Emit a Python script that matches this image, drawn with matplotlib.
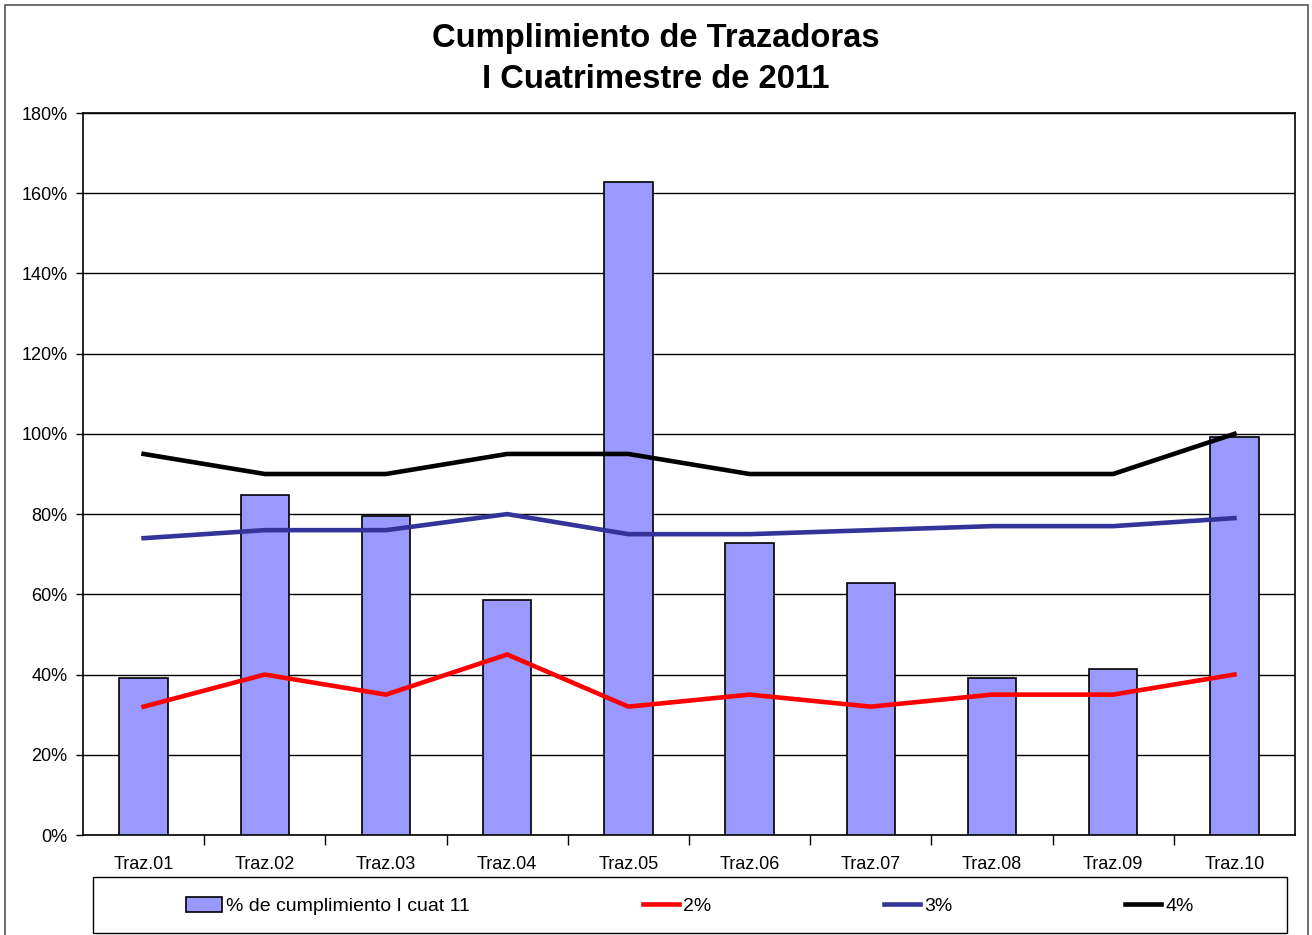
import matplotlib.pyplot as plt
from matplotlib.patches import Rectangle
from matplotlib.ticker import FuncFormatter, MultipleLocator
import numpy as np

plt.rcParams['font.family'] = ['Liberation Sans', 'DejaVu Sans']

categories = ['Traz.01', 'Traz.02', 'Traz.03', 'Traz.04', 'Traz.05',
              'Traz.06', 'Traz.07', 'Traz.08', 'Traz.09', 'Traz.10']
cumplimiento = [39.2, 84.8, 79.6, 58.6, 162.8, 72.8, 62.8, 39.2, 41.4, 99.2]
meta_2 = [32, 40, 35, 45, 32, 35, 32, 35, 35, 40]
meta_3 = [74, 76, 76, 80, 75, 75, 76, 77, 77, 79]
meta_4 = [95, 90, 90, 95, 95, 90, 90, 90, 90, 100]

W, H = 1312, 935
fig = plt.figure(figsize=(W / 100, H / 100), dpi=100)

# outer chart border
fig.patches.append(Rectangle((5 / W, -0.01), 1303 / W, 1 - 5 / H + 0.01,
                             transform=fig.transFigure, fill=False,
                             edgecolor='#555555', linewidth=1.2))

ax = fig.add_axes([83 / W, 1 - 835 / H, 1212 / W, 722 / H])
x = np.arange(len(categories))

ax.bar(x, cumplimiento, width=0.4, color='#9999ff', edgecolor='black',
       linewidth=1.2, zorder=3, label='% de cumplimiento I cuat 11')
ax.plot(x, meta_2, color='#ff0000', linewidth=3.3, zorder=4, label='2%')
ax.plot(x, meta_3, color='#333399', linewidth=3.3, zorder=4, label='3%')
ax.plot(x, meta_4, color='black', linewidth=3.3, zorder=4, label='4%')

ax.set_xlim(-0.5, len(categories) - 0.5)
ax.set_ylim(0, 180)
ax.yaxis.set_major_locator(MultipleLocator(20))
ax.yaxis.set_major_formatter(FuncFormatter(lambda v, p: f'{v:.0f}%'))
ax.grid(axis='y', color='black', linewidth=1, zorder=0)

ax.set_xticks(x)
ax.set_xticklabels(categories)
ax.set_xticks(np.arange(0.5, len(categories) - 1, 1), minor=True)
ax.tick_params(axis='x', which='major', length=0, pad=15, labelsize=13)
ax.tick_params(axis='x', which='minor', length=7, width=1, direction='out')
ax.tick_params(axis='y', length=5, width=1, direction='out', labelsize=13, pad=6)
for s in ax.spines.values():
    s.set_color('black')
    s.set_linewidth(1.2)

fig.text(0.5, 1 - 38.5 / H, 'Cumplimiento de Trazadoras', ha='center', va='center',
         fontsize=23.6, fontweight='bold')
fig.text(0.5, 1 - 79.5 / H, 'I Cuatrimestre de 2011', ha='center', va='center',
         fontsize=23.6, fontweight='bold')

# legend box
fig.patches.append(Rectangle((93 / W, 2 / H), 1194 / W, 56 / H,
                             transform=fig.transFigure, fill=False,
                             edgecolor='black', linewidth=1))
handles, labels = ax.get_legend_handles_labels()
order = [3, 0, 1, 2]
handles = [handles[i] for i in order]
labels = [labels[i] for i in order]
fig.legend(handles, labels, loc='center', bbox_to_anchor=(690 / W, 1 - 906 / H),
           ncol=4, frameon=False, fontsize=14, columnspacing=8.9,
           handlelength=1.85, handletextpad=0.2, handleheight=0.8)

fig.savefig('out.png', dpi=100)
